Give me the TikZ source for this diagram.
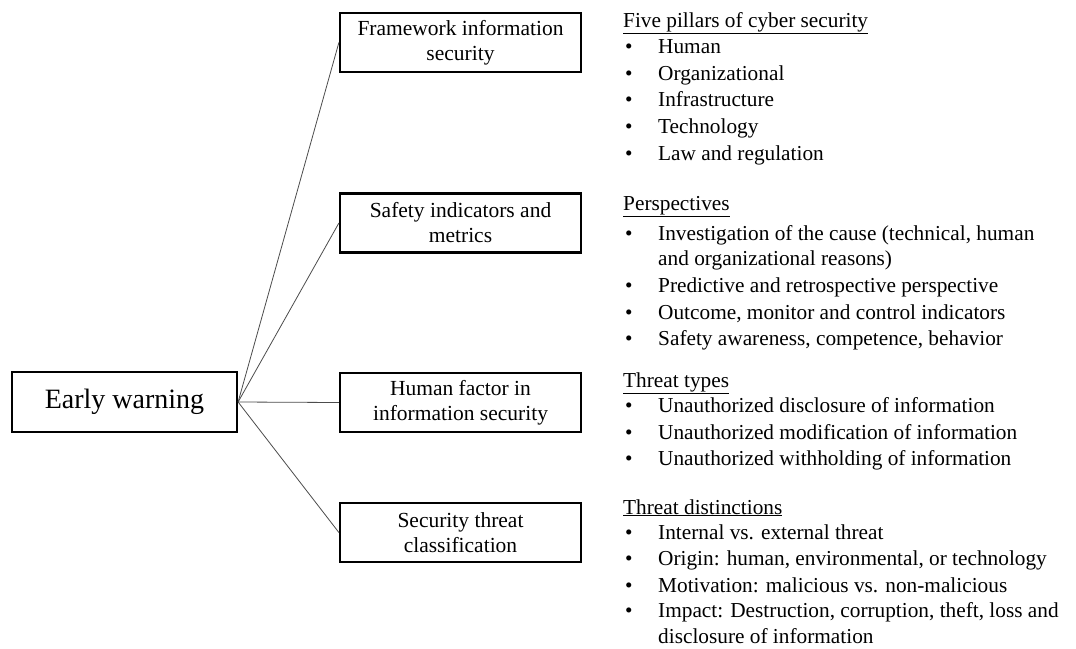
\documentclass[tikz,border=0pt]{standalone}
\usepackage{fontspec}
\setmainfont{Liberation Serif}
\newcommand{\bul}{\makebox[33pt][l]{•}}
\begin{document}
\begin{tikzpicture}[x=1pt,y=-1pt,
  root/.style={draw=black, line width=2.2pt, minimum width=225pt, minimum height=60pt,
    inner sep=0pt, font=\fontsize{28}{32}\selectfont},
  box/.style={draw=black, line width=2.2pt, minimum width=241pt, minimum height=59pt,
    inner sep=0pt, align=center, font=\fontsize{21.5}{25}\selectfont},
  link/.style={draw=black!70, line width=0.8pt},
  txt/.style={anchor=base west, inner sep=0pt, font=\fontsize{21.3}{26}\selectfont},
  head/.style={txt},
  item/.style={txt}
]
\useasboundingbox[fill=white] (0,0) rectangle (1076,648);

% main topic and its four branches
\node[root] (ew) at (124.5,402) {Early warning};
\node[box] (fw) at (460.5,42.5) {Framework information\\security};
\node[box] (si) at (460.5,223) {Safety indicators and\\metrics};
\node[box] (hf) at (460.5,402.5) {Human factor in\\information security};
\node[box] (st) at (460.5,532.5) {Security threat\\classification};

\draw[link] (ew.east) -- (fw.west);
\draw[link] (ew.east) -- (si.west);
\draw[link] (ew.east) -- (hf.west);
\draw[link] (ew.east) -- (st.west);

% Five pillars
\node[head] (h1) at (623,27) {\underline{Five pillars of cyber security}};
\node[item] (a1) at (625,53) {\bul Human};
\node[item] (a2) at (625,80) {\bul Organizational};
\node[item] (a3) at (625,106) {\bul Infrastructure};
\node[item] (a4) at (625,133) {\bul Technology};
\node[item] (a5) at (625,160) {\bul Law and regulation};

% Perspectives
\node[head] (h2) at (623,210) {\underline{Perspectives}};
\node[item] (b1) at (625,240) {\bul Investigation of the cause (technical, human};
\node[item] (b1b) at (658,265) {and organizational reasons)};
\node[item] (b2) at (625,292) {\bul Predictive and retrospective perspective};
\node[item] (b3) at (625,319) {\bul Outcome, monitor and control indicators};
\node[item] (b4) at (625,345) {\bul Safety awareness, competence, behavior};

% Threat types
\node[head] (h3) at (623,387) {\underline{Threat types}};
\node[item] (c1) at (625,412) {\bul Unauthorized disclosure of information};
\node[item] (c2) at (625,439) {\bul Unauthorized modification of information};
\node[item] (c3) at (625,465) {\bul Unauthorized withholding of information};

% Threat distinctions
\node[head] (h4) at (623,514) {\underline{Threat distinctions}};
\node[item] (d1) at (625,539) {\bul Internal vs. external threat};
\node[item] (d2) at (625,565) {\bul Origin: human, environmental, or technology};
\node[item] (d3) at (625,592) {\bul Motivation: malicious vs. non-malicious};
\node[item] (d4) at (625,617) {\bul Impact: Destruction, corruption, theft, loss and};
\node[item] (d4b) at (658,643) {disclosure of information};
\end{tikzpicture}
\end{document}
